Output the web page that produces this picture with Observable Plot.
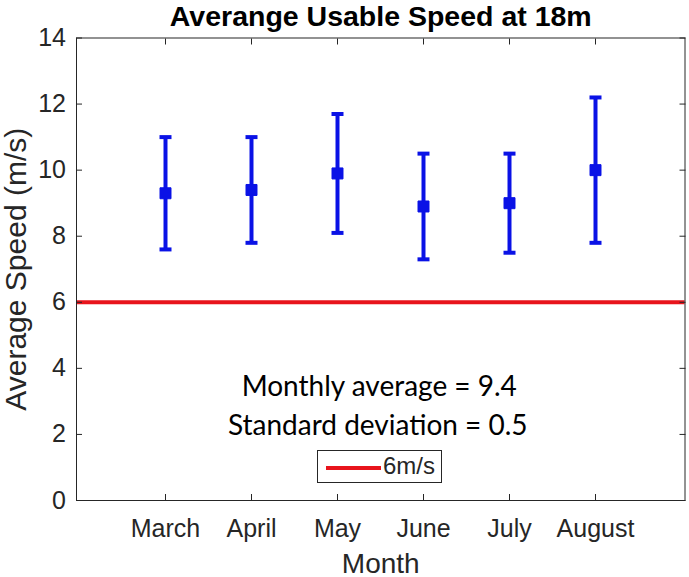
<!DOCTYPE html>
<html>
<head>
<meta charset="utf-8">
<script src="https://cdn.jsdelivr.net/npm/d3@7"></script>
<script src="https://cdn.jsdelivr.net/npm/@observablehq/plot@0.6"></script>
<style>
  html, body { margin: 0; padding: 0; background: #fff; }
  #wrap { position: relative; width: 689px; height: 577px; }
  #legend {
    position: absolute; left: 317px; top: 450px; width: 123px; height: 31px;
    border: 1px solid #262626; background: #fff; box-sizing: content-box;
  }
  #legend .swatch { position: absolute; left: 8px; top: 15px; width: 55px; height: 4px; background: #e8141c; }
  #legend .lab { position: absolute; left: 65px; top: 1px; font: 24px "Liberation Sans", Arial, sans-serif; color: #262626; line-height: 28px; }
</style>
</head>
<body>
<div id="wrap"></div>
<script>
// ---- data ----
const months = ["March", "April", "May", "June", "July", "August"];
const means  = [9.3, 9.4, 9.9, 8.9, 9.0, 10.0];
const lows   = [7.6, 7.8, 8.1, 7.3, 7.5, 7.8];
const highs  = [11.0, 11.0, 11.7, 10.5, 10.5, 12.2];
const yTicks = [0, 2, 4, 6, 8, 10, 12, 14];
const threshold = 6;
const thresholdLabel = "6m/s";
const monthlyAverage = 9.4;
const stdDeviation = 0.5;
const title = "Averange Usable Speed at 18m";
const xLabel = "Month";
const yLabel = "Average Speed (m/s)";

const data = months.map((m, i) => ({month: m, mean: means[i], low: lows[i], high: highs[i]}));

const blue = "#0a12e6";
const red = "#e8141c";
const axisColor = "#262626";
const capSymbol = {draw(ctx) { ctx.moveTo(-6, 0); ctx.lineTo(6, 0); }};

const chart = Plot.plot({
  width: 689,
  height: 577,
  marginLeft: 76,
  marginRight: 4.5,
  marginTop: 37.5,
  marginBottom: 77,
  style: {fontFamily: "'Liberation Sans', Arial, sans-serif", color: axisColor, background: "#fff"},
  x: {type: "point", domain: months, padding: 1},
  y: {domain: [0, 14]},
  marks: [
    Plot.ruleY([threshold], {stroke: red, strokeWidth: 4}),
    Plot.ruleX(data, {x: "month", y1: "low", y2: "high", stroke: blue, strokeWidth: 4}),
    Plot.dot(data, {x: "month", y: "high", symbol: capSymbol, stroke: blue, strokeWidth: 4, fill: "none"}),
    Plot.dot(data, {x: "month", y: "low", symbol: capSymbol, stroke: blue, strokeWidth: 4, fill: "none"}),
    Plot.dot(data, {x: "month", y: "mean", symbol: "square", r: 6.2, fill: blue, stroke: blue, strokeWidth: 1}),
    Plot.frame({stroke: axisColor, strokeWidth: 1}),
    Plot.axisX({anchor: "bottom", tickSize: -6, tickPadding: 25, fontSize: 25, label: null, fill: axisColor, stroke: axisColor}),
    Plot.axisX({anchor: "top", tickSize: -6, tickFormat: () => "", label: null, stroke: axisColor}),
    Plot.axisY({anchor: "left", ticks: yTicks, tickSize: -6, tickPadding: 16.5, fontSize: 25, label: null, fill: axisColor, stroke: axisColor}),
    Plot.axisY({anchor: "right", ticks: yTicks, tickSize: -6, tickFormat: () => "", label: null, stroke: axisColor}),
    Plot.text([title], {text: d => d, frameAnchor: "top", dy: -12.5, lineAnchor: "bottom", fontSize: 28.5, fontWeight: "bold", fill: "#000"}),
    Plot.text([xLabel], {text: d => d, frameAnchor: "bottom", dy: 72, lineAnchor: "bottom", fontSize: 28, fill: axisColor}),
    Plot.text([yLabel], {text: d => d, frameAnchor: "left", textAnchor: "middle", dx: -51, rotate: -90, lineAnchor: "bottom", fontSize: 30, fill: axisColor}),
    Plot.text([`Monthly average = ${monthlyAverage}`], {text: d => d, frameAnchor: "bottom", dx: -1.5, dy: -105, lineAnchor: "bottom", fontSize: 28, fontFamily: "Lato", fill: "#000"}),
    Plot.text([`Standard deviation = ${stdDeviation}`], {text: d => d, frameAnchor: "bottom", dx: -3, dy: -66, lineAnchor: "bottom", fontSize: 28, fontFamily: "Lato", fill: "#000"})
  ]
});

const wrap = document.getElementById("wrap");
wrap.appendChild(chart);
const legend = document.createElement("div");
legend.id = "legend";
legend.innerHTML = `<div class="swatch"></div><div class="lab">${thresholdLabel}</div>`;
wrap.appendChild(legend);
</script>
</body>
</html>
